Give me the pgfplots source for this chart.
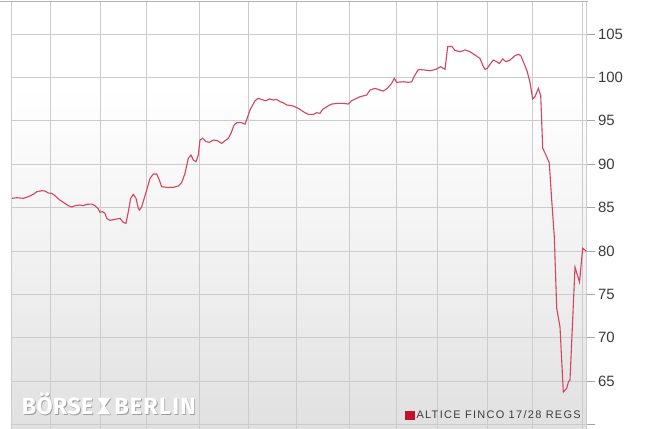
\documentclass[border=0pt]{standalone}
\usepackage{pgfplots}
\pgfplotsset{compat=1.18}
\usepackage{fontspec}
\setmainfont{Liberation Sans}
\newfontfamily\wmfonta[LetterSpace=1]{Fira Sans}
\newfontfamily\wmfontb[LetterSpace=5]{Fira Sans}
\definecolor{linered}{RGB}{212,68,94}
\definecolor{legred}{RGB}{192,18,44}
\definecolor{gridc}{RGB}{204,204,204}
\definecolor{txt}{RGB}{60,60,60}
\pgfdeclareverticalshading{bggrad}{100bp}{color(0bp)=(black!12); color(25bp)=(black!12); color(40bp)=(black!7); color(50bp)=(black!4); color(65bp)=(white); color(100bp)=(white)}
\newcommand\wm{{\wmfonta\bfseries\fontsize{23.5}{23.5}\selectfont BÖRSE}\hspace{21bp}{\wmfontb\bfseries\fontsize{23.5}{23.5}\selectfont BERLIN}}

\pgfplotstableread{
x y
12 86.06
16.7 86.13
23.3 86.06
28.3 86.25
33.3 86.52
36.7 86.82
41.7 86.94
45 86.90
48.3 86.67
51.7 86.64
55 86.36
59.3 85.90
63.3 85.60
68.3 85.21
71.7 85.06
75 85.21
80 85.29
83.3 85.21
86.7 85.37
91.7 85.40
95 85.21
98.3 84.83
100 84.45
102.7 84.52
105 84.33
106.7 83.75
110 83.52
115 83.64
120 83.75
123.3 83.29
126 83.18
128.3 84.52
130.7 86.06
133.3 86.52
136 86.06
138.3 84.91
139.5 84.71
141.7 85.09
146.7 87.02
150 88.37
153.3 88.86
156.7 88.86
159.3 88.17
161.7 87.40
166.7 87.33
173.3 87.33
178.3 87.48
181.7 87.86
185 88.94
188.3 90.67
191 91.05
193.3 90.48
196 90.28
198.3 91.05
200 92.78
202.7 92.98
206 92.59
209.3 92.52
213.3 92.78
217.3 92.70
221.7 92.40
225 92.70
228.3 92.98
231 93.55
234 94.51
236.7 94.78
241.7 94.78
245 94.60
247.3 95.32
250 96.24
255 97.31
258.3 97.59
263.3 97.39
266 97.31
269.3 97.51
273.3 97.39
276.7 97.47
280 97.20
283.3 97.08
286.7 96.82
293.3 96.70
298.3 96.44
303.3 96.04
308.3 95.74
313.3 95.74
316.7 95.93
320 95.86
322.7 96.32
326.7 96.62
331.7 96.93
338.3 97.01
343.3 97.01
348.3 96.93
351.7 97.31
356.7 97.59
360 97.77
366.7 97.97
370 98.54
375 98.74
380 98.54
383.3 98.43
387.3 98.74
391.7 99.32
394.3 99.89
396.7 99.43
403.3 99.50
408.3 99.43
411.7 99.50
414 100.08
418.3 100.91
425 100.85
430 100.77
436 100.93
440.7 101.23
445 100.93
447.7 103.54
451.7 103.58
455 103.12
460 102.96
465 103.16
470 102.96
476 102.50
480 102.18
482.7 101.43
485 100.91
487.3 101.05
490 101.51
493.3 102.00
496.7 101.81
499.3 101.60
502.7 102.12
506 101.81
510 102.00
515 102.50
518.3 102.67
520.7 102.52
524 101.62
527.3 100.65
530 99.41
532.7 97.51
535 97.77
538.3 98.74
540.7 97.91
542.7 91.82
546 91.05
549.3 90.13
551.7 85.86
554.3 81.60
556.7 73.38
560 71.22
563.3 63.73
566.7 64.16
568.5 64.94
570 65.12
575 78.14
579.5 76.41
582.7 80.30
586.5 79.95
}\altice

\begin{document}
\begin{tikzpicture}
\begin{axis}[name=ax, scale only axis, width=575bp, height=427.5bp,
  xmin=11.5, xmax=586.5, ymin=59.47, ymax=108.75,
  axis background/.style={shading=bggrad},
  xtick={50,100,146,199,248.5,296,349,396,437,487,532.5,582},
  xticklabels={},
  ytick={60,65,...,105},
  yticklabels={,65,70,75,80,85,90,95,100,105},
  grid=major,
  major grid style={draw=gridc, line width=0.8bp},
  xtick style={draw=none},
  ytick pos=right, yticklabel pos=right,
  tick align=outside, major tick length=8bp,
  ytick style={draw=black!35, line width=0.8bp},
  axis line style={draw=gridc, line width=0.8bp},
  yticklabel style={font=\fontsize{15}{15}\selectfont, text=txt, anchor=west},
  /pgf/number format/assume math mode=true,
  legend style={at={(axis description cs:0.9935,0.016)}, anchor=south east,
    draw=none, fill=none, inner sep=0pt, outer sep=0pt,
    font=\fontsize{11}{11}\selectfont\addfontfeatures{LetterSpace=12}, text=txt},
  legend image code/.code={\fill[legred] (0bp,-4bp) rectangle (8bp,4bp);},
]
\addplot[linered, line width=1.1bp] table[x=x, y=y] {\altice};
\addlegendentry{ALTICE FINCO 17/28 REGS}
% watermark (logo)
\node[anchor=base west, inner sep=0pt, text=black!38]
  at ([xshift=0.9bp, yshift=-0.9bp]axis description cs:0.0177,0.0328) {\wm};
\fill[black!38, shift={(0.9bp,-0.9bp)}] (97.5,61.16)--(110.5,61.16)--(104.8,62.12)--(110.5,63.07)--(97.5,63.07)--(103.2,62.12)--cycle;
\node[anchor=base west, inner sep=0pt, text=white]
  at (axis description cs:0.0177,0.0328) {\wm};
\fill[white] (97.5,61.16)--(110.5,61.16)--(104.8,62.12)--(110.5,63.07)--(97.5,63.07)--(103.2,62.12)--cycle;
\end{axis}
\draw[black!30, line width=1.5bp] ([xshift=-11.5bp]ax.north west) -- ([xshift=1bp]ax.north east);
\pgfresetboundingbox
\path[use as bounding box] ([xshift=-11.5bp]ax.south west) rectangle ++(662bp,429bp);
\end{tikzpicture}
\end{document}
